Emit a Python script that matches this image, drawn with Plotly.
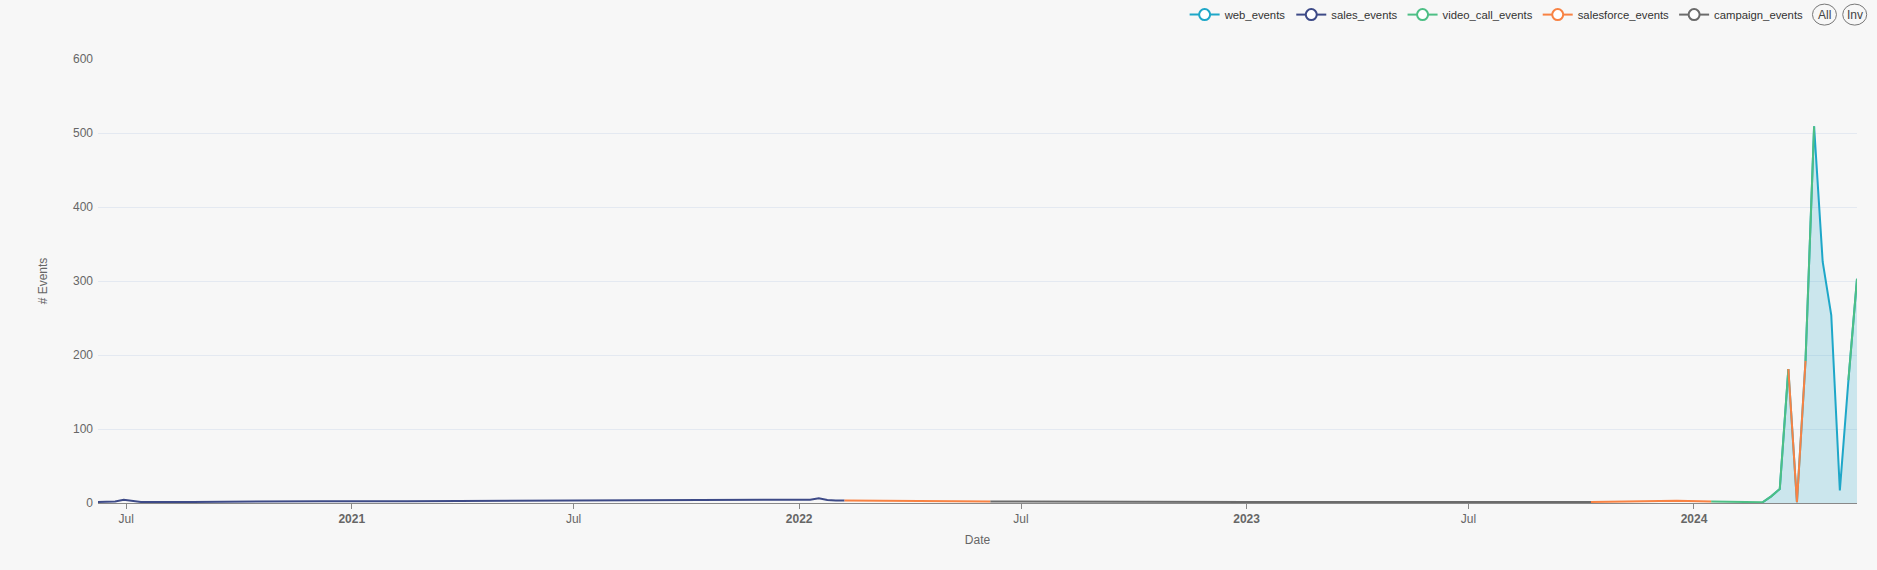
import plotly.graph_objects as go

# ---- data ----
sales_dates = ["2020-06-08", "2020-06-15", "2020-06-22", "2020-06-29", "2020-07-06", "2020-07-13",
               "2020-08-24", "2020-10-05", "2020-12-07", "2021-02-15", "2021-04-26", "2021-07-05",
               "2021-09-13", "2021-11-22", "2022-01-03", "2022-01-10", "2022-01-17", "2022-01-24",
               "2022-01-31", "2022-02-07"]
sales_values = [1.5, 1.5, 2, 4.5, 3.5, 1.5,
                1.5, 2, 2.5, 2.5, 3, 3,
                3.5, 3.5, 4, 4.5, 6.5, 4,
                3.5, 3.5]

salesforce_dates = ["2022-02-07", "2022-02-14", "2022-03-14", "2022-04-11", "2022-05-09", "2022-06-06",
                    "2022-06-13",
                    "2023-10-09", "2023-11-13", "2023-12-18", "2024-01-15",
                    "2024-01-22",
                    "2024-03-18", "2024-03-25", "2024-04-01"]
salesforce_values = [3.5, 3.5, 3.5, 3, 2.5, 2,
                     None,
                     1.5, 2.5, 3, 2,
                     None,
                     181, 1, 192]

campaign_dates = ["2022-06-06", "2022-09-05", "2023-01-02", "2023-05-01", "2023-10-09"]
campaign_values = [2, 1.5, 1.5, 1.5, 1.5]

video_call_dates = ["2024-01-15", "2024-01-22", "2024-01-29", "2024-02-05", "2024-02-12", "2024-02-19",
                    "2024-02-26", "2024-03-04", "2024-03-11", "2024-03-18", "2024-03-25", "2024-04-01",
                    "2024-04-08", "2024-04-15", "2024-04-22", "2024-04-29", "2024-05-06", "2024-05-13"]
video_call_values = [2, 2, 1.5, 1.5, 1.5, 1,
                     1, 9, 19, 181, None, 192,
                     509, None, None, None, 166, 303]

web_dates = ["2024-02-26", "2024-03-04", "2024-03-11", "2024-03-18", "2024-03-25", "2024-04-01",
             "2024-04-08", "2024-04-15", "2024-04-22", "2024-04-29", "2024-05-06", "2024-05-13"]
web_values = [1, 9, 19, 181, 1, 192, 509, 326, 254, 17, 166, 303]

tick_dates = ["2020-07-01", "2021-01-01", "2021-07-01", "2022-01-01", "2022-07-01",
              "2023-01-01", "2023-07-01", "2024-01-01"]
tick_labels = ["Jul", "<b>2021</b>", "Jul", "<b>2022</b>", "Jul", "<b>2023</b>", "Jul", "<b>2024</b>"]

series_names = ["web_events", "sales_events", "video_call_events", "salesforce_events", "campaign_events"]
series_colors = ["#1ea7c8", "#3d4a87", "#4dbf85", "#f88243", "#6b6b6b"]

BG = "#f7f7f7"
FONT = "Liberation Sans, Arial, sans-serif"

fig = go.Figure()

data_map = {
    "web_events": (web_dates, web_values),
    "sales_events": (sales_dates, sales_values),
    "video_call_events": (video_call_dates, video_call_values),
    "salesforce_events": (salesforce_dates, salesforce_values),
    "campaign_events": (campaign_dates, campaign_values),
}

for name, color in zip(series_names, series_colors):
    xs, ys = data_map[name]
    kw = {}
    if name == "web_events":
        kw = dict(fill="tozeroy", fillcolor="rgba(30,167,200,0.2)")
    fig.add_trace(go.Scatter(
        x=xs, y=ys, mode="lines", name=name, showlegend=False, legendgroup=name,
        line=dict(color=color, width=2), connectgaps=False, hoverinfo="x+y+name", **kw))

# legend entries
for name, color in zip(series_names, series_colors):
    fig.add_trace(go.Scatter(
        x=[None], y=[None], mode="lines+markers", name=name, legendgroup=name,
        line=dict(color=color, width=2),
        marker=dict(symbol="circle", size=11, color="white", line=dict(color=color, width=2))))

# "All" / "Inv" pill buttons
LEG_Y = 1.10
buttons = [("All", 0.9815), ("Inv", 0.9987)]
for label, bx in buttons:
    fig.add_annotation(x=bx, y=LEG_Y, xref="paper", yref="paper", text=label, showarrow=False,
                       font=dict(family=FONT, size=12, color="#444"), xanchor="center", yanchor="middle")
    fig.add_shape(type="circle", xref="paper", yref="paper", xsizemode="pixel", ysizemode="pixel",
                  xanchor=bx, yanchor=LEG_Y, x0=-12, x1=12, y0=-10.5, y1=10.5,
                  line=dict(color="#777", width=1), fillcolor="rgba(0,0,0,0)")

fig.update_layout(
    width=1877, height=570,
    paper_bgcolor=BG, plot_bgcolor=BG,
    margin=dict(l=98, r=20, t=59, b=67, autoexpand=False),
    font=dict(family=FONT, size=12, color="#666"),
    showlegend=True,
    legend=dict(orientation="h", x=0.9725, xanchor="right", y=LEG_Y, yanchor="middle",
                font=dict(family=FONT, size=11.3, color="#333"), bgcolor="rgba(0,0,0,0)",
                itemwidth=30, tracegroupgap=0),
    xaxis=dict(
        title=dict(text="Date", font=dict(size=12, color="#666"), standoff=10),
        tickvals=tick_dates, ticktext=tick_labels,
        range=["2020-06-08", "2024-05-13"],
        showgrid=False, showline=True, linecolor="#888", linewidth=1,
        ticks="outside", ticklen=5, tickcolor="#888",
        tickfont=dict(size=12, color="#666"), zeroline=False,
    ),
    yaxis=dict(
        title=dict(text="# Events", font=dict(size=12, color="#666"), standoff=22),
        range=[0, 600], tickvals=[0, 100, 200, 300, 400, 500, 600],
        showgrid=True, gridcolor="#e4e9f1", gridwidth=1, zeroline=False,
        tickfont=dict(size=12, color="#666"), showline=False, ticklabelstandoff=4,
    ),
)

fig.write_html("out.html",
               config={"displayModeBar": False},
               post_script="document.body.style.margin='0';"
                           "document.body.style.backgroundColor='#f7f7f7';"
                           "document.body.style.overflow='hidden';")
